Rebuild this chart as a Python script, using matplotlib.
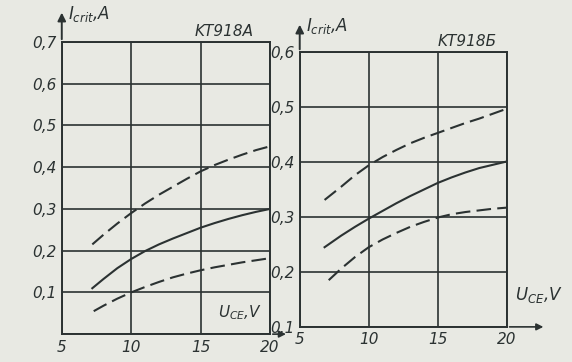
"""
Critical current vs collector-emitter voltage for KT918A / KT918B
"""
import matplotlib
matplotlib.use('Agg')
import matplotlib.pyplot as plt

INK = '#2b3232'
PAPER = '#e8e9e3'

# --- KT918A (left panel) ---
a_x_upper = [7.2, 8, 9, 10, 11, 12, 13, 14, 15, 16, 17, 18, 19, 20]
a_y_upper = [0.215, 0.238, 0.265, 0.29, 0.313, 0.334, 0.353, 0.372,
             0.39, 0.405, 0.418, 0.43, 0.441, 0.45]
a_x_mid = [7.2, 8, 9, 10, 11, 12, 13, 14, 15, 16, 17, 18, 19, 20]
a_y_mid = [0.11, 0.132, 0.158, 0.18, 0.199, 0.215, 0.229, 0.242,
           0.255, 0.266, 0.276, 0.285, 0.293, 0.30]
a_x_lower = [7.3, 8, 9, 10, 11, 12, 13, 14, 15, 16, 17, 18, 19, 20]
a_y_lower = [0.055, 0.068, 0.085, 0.10, 0.113, 0.125, 0.136, 0.145,
             0.153, 0.160, 0.166, 0.172, 0.177, 0.182]

# --- KT918B (right panel) ---
b_x_upper = [6.8, 8, 9, 10, 11, 12, 13, 14, 15, 16, 17, 18, 19, 20]
b_y_upper = [0.331, 0.355, 0.376, 0.394, 0.409, 0.422, 0.434, 0.444,
             0.453, 0.462, 0.471, 0.479, 0.488, 0.497]
b_x_mid = [6.8, 8, 9, 10, 11, 12, 13, 14, 15, 16, 17, 18, 19, 20]
b_y_mid = [0.245, 0.266, 0.282, 0.297, 0.311, 0.325, 0.338, 0.350,
           0.362, 0.372, 0.381, 0.389, 0.395, 0.401]
b_x_lower = [7.1, 8, 9, 10, 11, 12, 13, 14, 15, 16, 17, 18, 19, 20]
b_y_lower = [0.185, 0.206, 0.227, 0.245, 0.259, 0.271, 0.282, 0.291,
             0.299, 0.305, 0.309, 0.312, 0.315, 0.317]

x_ticks = [5, 10, 15, 20]
a_y_ticks = [0, 0.1, 0.2, 0.3, 0.4, 0.5, 0.6, 0.7]
b_y_ticks = [0.1, 0.2, 0.3, 0.4, 0.5, 0.6]

plt.rcParams['font.family'] = ['DejaVu Sans']
plt.rcParams['mathtext.fontset'] = 'dejavusans'

fig = plt.figure(figsize=(5.72, 3.62), dpi=100, facecolor=PAPER)
ax_a = fig.add_axes([0.108, 0.077, 0.364, 0.807])
ax_b = fig.add_axes([0.524, 0.097, 0.362, 0.759])

DASH = (0, (7, 3))


def comma(v):
    return f'{v:.1f}'.replace('.', ',')


def style_panel(ax, yticks, ylabels):
    ax.set_facecolor(PAPER)
    ax.set_xlim(5, 20)
    ax.set_ylim(yticks[0], yticks[-1])
    ax.set_xticks(x_ticks)
    ax.set_xticklabels([str(t) for t in x_ticks], fontstyle='italic')
    ax.set_yticks(yticks)
    ax.set_yticklabels(ylabels, fontstyle='italic')
    ax.grid(True, color=INK, linewidth=1.2)
    ax.tick_params(length=0, labelsize=11, colors=INK, pad=4)
    for s in ax.spines.values():
        s.set_color(INK)
        s.set_linewidth(1.4)
    ax.set_axisbelow(True)


def arrows(ax, x_len):
    #vertical arrow above the frame and horizontal one past the right edge
    ax.annotate('', xy=(0, 1.11), xytext=(0, 1.0), xycoords='axes fraction',
                arrowprops=dict(arrowstyle='-|>', color=INK, lw=1.4,
                                mutation_scale=12), annotation_clip=False)
    ax.annotate('', xy=(1.0 + x_len, 0), xytext=(1.0, 0),
                xycoords='axes fraction',
                arrowprops=dict(arrowstyle='-|>', color=INK, lw=1.2,
                                mutation_scale=10), annotation_clip=False)


# left panel
style_panel(ax_a, a_y_ticks, [''] + [comma(v) for v in a_y_ticks[1:]])
ax_a.plot(a_x_upper, a_y_upper, color=INK, lw=1.5, linestyle=DASH)
ax_a.plot(a_x_mid, a_y_mid, color=INK, lw=1.5)
ax_a.plot(a_x_lower, a_y_lower, color=INK, lw=1.5, linestyle=DASH)
arrows(ax_a, 0.09)
ax_a.text(0.03, 1.06, r'$I_{crit}$,A', transform=ax_a.transAxes,
          fontsize=12, color=INK, style='italic', va='bottom')
ax_a.text(0.92, 1.01, 'KT918A', transform=ax_a.transAxes, fontsize=11,
          color=INK, style='italic', ha='right', va='bottom')
ax_a.text(0.96, 0.04, r'$U_{CE}$,V', transform=ax_a.transAxes, fontsize=11,
          color=INK, style='italic', ha='right', va='bottom')

# right panel
style_panel(ax_b, b_y_ticks, [comma(v) for v in b_y_ticks])
ax_b.plot(b_x_upper, b_y_upper, color=INK, lw=1.5, linestyle=DASH)
ax_b.plot(b_x_mid, b_y_mid, color=INK, lw=1.5)
ax_b.plot(b_x_lower, b_y_lower, color=INK, lw=1.5, linestyle=DASH)
arrows(ax_b, 0.19)
ax_b.text(0.03, 1.06, r'$I_{crit}$,A', transform=ax_b.transAxes,
          fontsize=12, color=INK, style='italic', va='bottom')
ax_b.text(0.95, 1.01, 'KT918Б', transform=ax_b.transAxes, fontsize=11,
          color=INK, style='italic', ha='right', va='bottom')
ax_b.text(1.04, 0.08, r'$U_{CE}$,V', transform=ax_b.transAxes, fontsize=12,
          color=INK, style='italic', ha='left', va='bottom')

fig.savefig('out.png', dpi=100, facecolor=PAPER)
